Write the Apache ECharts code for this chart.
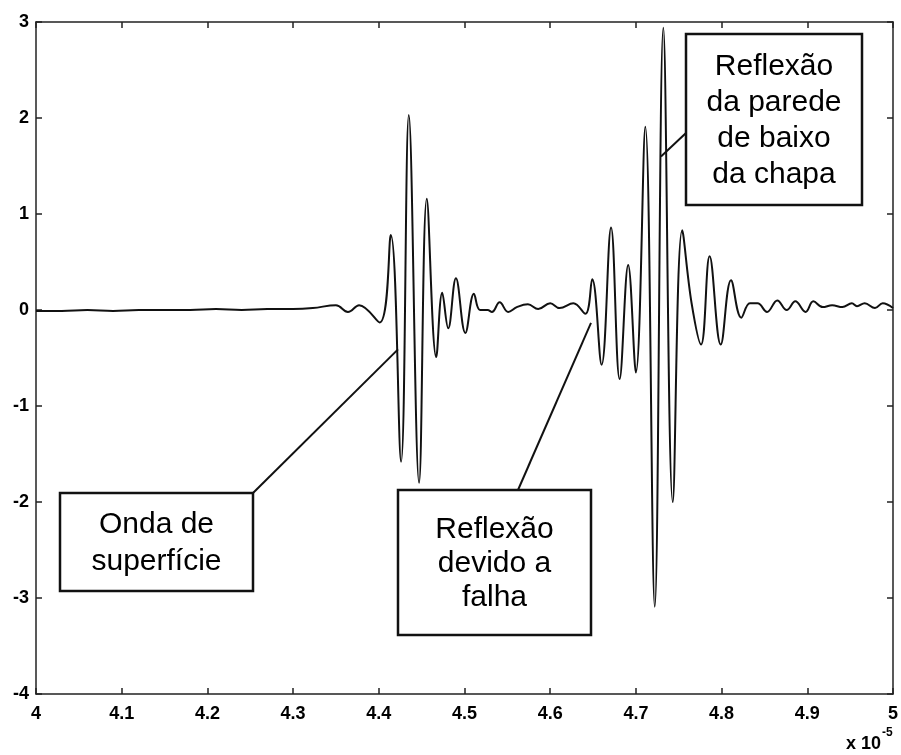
<!DOCTYPE html>
<html>
<head>
<meta charset="utf-8">
<script src="https://cdn.jsdelivr.net/npm/echarts@6/dist/echarts.min.js"></script>
<style>
html, body { margin: 0; padding: 0; background: #fff; }
#chart { width: 901px; height: 755px; }
</style>
</head>
<body>
<div id="chart"></div>
<script>
// tempo em unidades de 1e-5 s
var tempo = [
    4.00, 4.03, 4.06, 4.09, 4.12, 4.15, 4.18, 4.21, 4.24, 4.27, 4.30, 4.323,
    4.350, 4.364, 4.377, 4.401,
    4.414, 4.426, 4.435, 4.447, 4.456, 4.467, 4.474, 4.481, 4.490, 4.501, 4.511,
    4.518, 4.527, 4.532, 4.541, 4.551, 4.561, 4.574, 4.586, 4.600, 4.611, 4.627, 4.641,
    4.649, 4.660, 4.671, 4.681, 4.691, 4.700, 4.711, 4.722, 4.732, 4.743, 4.754,
    4.765, 4.776, 4.786, 4.799, 4.811, 4.823,
    4.833, 4.842, 4.853, 4.865, 4.876, 4.886, 4.898, 4.907, 4.918, 4.929, 4.941,
    4.952, 4.958, 4.967, 4.979, 4.988, 5.000
];
var sinal = [
    -0.01, -0.01, 0.00, -0.01, 0.00, 0.00, 0.00, 0.01, 0.00, 0.01, 0.01, 0.02,
    0.05, -0.02, 0.05, -0.13,
    0.78, -1.58, 2.03, -1.80, 1.16, -0.49, 0.18, -0.19, 0.33, -0.24, 0.17,
    0.00, 0.00, -0.02, 0.08, -0.02, 0.03, 0.06, 0.01, 0.07, 0.02, 0.07, -0.04,
    0.32, -0.57, 0.86, -0.72, 0.47, -0.65, 1.91, -3.09, 2.94, -2.00, 0.83,
    0.07, -0.36, 0.56, -0.36, 0.31, -0.08,
    0.07, 0.07, -0.02, 0.10, 0.00, 0.09, -0.02, 0.09, 0.03, 0.05, 0.03,
    0.07, 0.04, 0.07, 0.02, 0.07, 0.02
];

var rotulos = ['Onda de\nsuperfície', 'Reflexão\ndevido a\nfalha', 'Reflexão\nda parede\nde baixo\nda chapa'];
// pontos da curva para onde apontam as setas (tempo, amplitude)
var alvos = [[4.4224, -0.41], [4.6476, -0.135], [4.7293, 1.60]];

var pontos = tempo.map(function (t, i) { return [t, sinal[i]]; });

var fonte = '"Liberation Sans", Arial, sans-serif';
var corEixo = '#222';

var chart = echarts.init(document.getElementById('chart'));

var eixoX = function (pos, mostrar) {
    return {
        type: 'value', position: pos, min: 4, max: 5, interval: 0.1,
        axisLine: { onZero: false, lineStyle: { color: corEixo, width: 1.5 } },
        axisTick: { inside: true, length: 6, lineStyle: { color: corEixo, width: 1.5 } },
        axisLabel: {
            show: mostrar, color: '#000', fontFamily: fonte, fontSize: 18, fontWeight: 'bold', margin: 11,
            formatter: function (v) { return String(Math.round(v * 10) / 10); }
        },
        splitLine: { show: false }
    };
};
var eixoY = function (pos, mostrar) {
    return {
        type: 'value', position: pos, min: -4, max: 3, interval: 1,
        axisLine: { onZero: false, lineStyle: { color: corEixo, width: 1.5 } },
        axisTick: { inside: true, length: 6, lineStyle: { color: corEixo, width: 1.5 } },
        axisLabel: { show: mostrar, color: '#000', fontFamily: fonte, fontSize: 18, fontWeight: 'bold', margin: 7 },
        splitLine: { show: false }
    };
};

chart.setOption({
    animation: false,
    backgroundColor: '#fff',
    grid: { left: 36, right: 8, top: 22, bottom: 61 },
    xAxis: [eixoX('bottom', true), eixoX('top', false)],
    yAxis: [eixoY('left', true), eixoY('right', false)],
    series: [{
        type: 'line',
        data: pontos,
        smooth: 0.4,
        showSymbol: false,
        lineStyle: { color: '#111', width: 2 },
        z: 2
    }]
});

// caixas de anotação (posição em pixels)
var caixas = [
    { x: 60, y: 493, w: 193, h: 98, de: [253, 493], lh: 37 },
    { x: 398, y: 490, w: 193, h: 145, de: [518, 490], lh: 34 },
    { x: 686, y: 34, w: 176, h: 171, de: [686, 133], lh: 36 }
];

var graficos = [];
caixas.forEach(function (c, i) {
    var p = chart.convertToPixel({ gridIndex: 0 }, alvos[i]);
    graficos.push({
        type: 'line', z: 10,
        shape: { x1: c.de[0], y1: c.de[1], x2: p[0], y2: p[1] },
        style: { stroke: '#111', lineWidth: 2 }
    });
    graficos.push({
        type: 'rect', z: 11,
        shape: { x: c.x, y: c.y, width: c.w, height: c.h },
        style: { fill: '#fff', stroke: '#111', lineWidth: 2.5 }
    });
    graficos.push({
        type: 'text', z: 12,
        x: c.x + c.w / 2, y: c.y + c.h / 2 + 1,
        style: {
            text: rotulos[i], font: '30px ' + fonte, fill: '#000',
            align: 'center', verticalAlign: 'middle', lineHeight: c.lh
        }
    });
});
graficos.push({
    type: 'text', z: 12, x: 846, y: 753,
    style: { text: 'x 10', font: 'bold 18px ' + fonte, fill: '#000', verticalAlign: 'bottom' }
});
graficos.push({
    type: 'text', z: 12, x: 882, y: 739,
    style: { text: '-5', font: 'bold 12px ' + fonte, fill: '#000', verticalAlign: 'bottom' }
});
chart.setOption({ graphic: graficos });
</script>
</body>
</html>
